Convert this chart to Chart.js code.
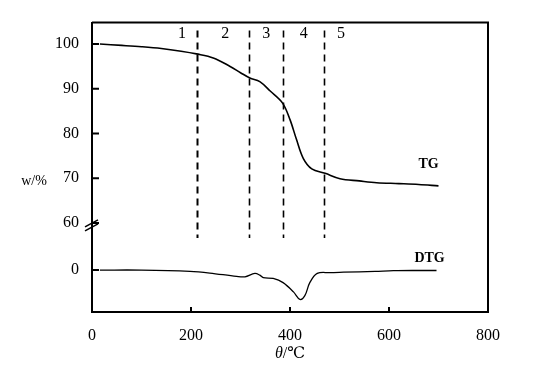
<!DOCTYPE html>
<html>
<head>
<meta charset="utf-8">
<script src="https://cdn.jsdelivr.net/npm/chart.js@4/dist/chart.umd.min.js"></script>
<style>
  html, body { margin: 0; padding: 0; background: #fff; }
</style>
</head>
<body>
<canvas id="tgChart" width="550" height="373"></canvas>
<script>
// TG curve (mass %) vs temperature
const tgTemp = [16, 60, 100, 140, 180, 211, 245, 279, 300, 319, 339, 360, 385, 400, 413, 427, 444, 471, 501, 540, 575, 620, 660, 700];
const tgMass = [100, 99.7, 99.4, 99.0, 98.4, 97.8, 96.9, 95.0, 93.6, 92.4, 91.6, 89.5, 86.8, 83.1, 78.7, 74.4, 72.1, 71.1, 69.9, 69.4, 69.0, 68.8, 68.6, 68.3];

// DTG curve (arbitrary units)
const dtgTemp = [16, 100, 198, 238, 292, 309, 329, 339, 346, 366, 386, 407, 420, 430, 440, 455, 480, 508, 572, 609, 650, 696];
const dtgRate = [0, 0, -0.3, -0.7, -1.5, -1.6, -0.8, -1.2, -1.8, -2.0, -3.0, -5.2, -7.0, -6.1, -3.0, -0.8, -0.6, -0.5, -0.3, -0.15, -0.1, -0.1];

// stage boundaries and labels
const stageBounds = [212, 318, 385, 469];
const stageLabels = ["1", "2", "3", "4", "5"];
const stageLabelTemp = [182, 269, 352, 428, 503];

const xTicks = [0, 200, 400, 600, 800];
const tgTicks = [60, 70, 80, 90, 100];
const dtgTicks = [0];

const FONT = "'Liberation Serif', 'DejaVu Serif', serif";

const decorations = {
    id: "decorations",
    afterDraw(chart) {
        const ctx = chart.ctx;
        const area = chart.chartArea;
        const xs = chart.scales.x;
        const ys = chart.scales.y;
        const y2 = chart.scales.y2;
        ctx.save();
        ctx.strokeStyle = "#000";
        ctx.fillStyle = "#000";

        // top and right frame
        ctx.lineWidth = 2;
        ctx.beginPath();
        ctx.moveTo(area.left, area.top);
        ctx.lineTo(area.right, area.top);
        ctx.lineTo(area.right, area.bottom);
        ctx.stroke();

        // inward tick marks
        ctx.lineWidth = 2;
        ctx.beginPath();
        xTicks.slice(1, -1).forEach(v => {
            const px = xs.getPixelForValue(v);
            ctx.moveTo(px, area.bottom);
            ctx.lineTo(px, area.bottom - 5);
        });
        tgTicks.forEach(v => {
            const py = ys.getPixelForValue(v);
            ctx.moveTo(area.left, py);
            ctx.lineTo(area.left + 7, py);
        });
        dtgTicks.forEach(v => {
            const py = y2.getPixelForValue(v);
            ctx.moveTo(area.left, py);
            ctx.lineTo(area.left + 7, py);
        });
        ctx.stroke();

        // axis break marks at the bottom of the TG scale
        const by = ys.getPixelForValue(60);
        ctx.lineWidth = 1.5;
        ctx.beginPath();
        ctx.moveTo(area.left - 7, by + 4);
        ctx.lineTo(area.left + 6, by - 3);
        ctx.moveTo(area.left - 7, by + 8);
        ctx.lineTo(area.left + 6, by + 1);
        ctx.stroke();

        // dashed stage boundaries
        ctx.setLineDash([7, 5]);
        stageBounds.forEach((t, i) => {
            ctx.lineWidth = i === 0 ? 2 : 1.6;
            const px = Math.round(xs.getPixelForValue(t)) + 0.5;
            ctx.beginPath();
            ctx.moveTo(px, area.top + 8);
            ctx.lineTo(px, 238);
            ctx.stroke();
        });
        ctx.setLineDash([]);

        // stage numbers
        ctx.font = "16px " + FONT;
        ctx.textAlign = "center";
        ctx.textBaseline = "middle";
        stageLabels.forEach((s, i) => {
            ctx.fillText(s, xs.getPixelForValue(stageLabelTemp[i]), 34);
        });

        // curve labels
        ctx.font = "bold 14px " + FONT;
        ctx.fillText("TG", xs.getPixelForValue(680), ys.getPixelForValue(73));
        ctx.fillText("DTG", xs.getPixelForValue(682), y2.getPixelForValue(2.8));

        // y-axis title
        ctx.font = "14px " + FONT;
        ctx.fillText("w/%", 34, 181);

        // x-axis title
        ctx.textAlign = "left";
        const cx = (area.left + area.right) / 2;
        ctx.font = "italic 16px " + FONT;
        const w1 = ctx.measureText("θ").width;
        ctx.font = "16px " + FONT;
        const w2 = ctx.measureText("/℃").width;
        const sx = cx - (w1 + w2) / 2;
        ctx.font = "italic 16px " + FONT;
        ctx.fillText("θ", sx, 354);
        ctx.font = "16px " + FONT;
        ctx.fillText("/℃", sx + w1, 354);
        ctx.restore();
    }
};

const ctx = document.getElementById("tgChart").getContext("2d");

new Chart(ctx, {
    type: "line",
    data: {
        datasets: [{
            label: "TG",
            data: tgTemp.map((t, i) => ({ x: t, y: tgMass[i] })),
            yAxisID: "y",
            borderColor: "#000",
            borderWidth: 1.6,
            pointRadius: 0,
            tension: 0.35,
            fill: false
        }, {
            label: "DTG",
            data: dtgTemp.map((t, i) => ({ x: t, y: dtgRate[i] })),
            yAxisID: "y2",
            borderColor: "#000",
            borderWidth: 1.3,
            pointRadius: 0,
            tension: 0.35,
            fill: false
        }]
    },
    options: {
        responsive: false,
        animation: false,
        maintainAspectRatio: false,
        layout: { padding: { top: 13, right: 62, left: 0, bottom: 0 } },
        plugins: {
            legend: { display: false },
            tooltip: { enabled: false }
        },
        scales: {
            x: {
                type: "linear",
                min: 0,
                max: 800,
                afterBuildTicks: s => { s.ticks = xTicks.map(v => ({ value: v })); },
                afterFit: s => { s.height = 61; },
                border: { color: "#000", width: 2 },
                grid: { drawOnChartArea: false, drawTicks: false },
                ticks: { color: "#000", padding: 14, autoSkip: false, maxRotation: 0, font: { family: FONT, size: 16 } }
            },
            y2: {
                type: "linear",
                position: "left",
                stack: "left",
                stackWeight: 92,
                min: -10,
                max: 11.25,
                afterBuildTicks: s => { s.ticks = dtgTicks.map(v => ({ value: v })); },
                afterFit: s => { s.width = 92; },
                border: { color: "#000", width: 2 },
                grid: { drawOnChartArea: false, drawTicks: false },
                ticks: { color: "#000", padding: 13, autoSkip: false, font: { family: FONT, size: 16 } }
            },
            y: {
                type: "linear",
                position: "left",
                stack: "left",
                stackWeight: 207,
                min: 60,
                max: 104.8,
                afterBuildTicks: s => { s.ticks = tgTicks.map(v => ({ value: v })); },
                afterFit: s => { s.width = 92; },
                border: { color: "#000", width: 2 },
                grid: { drawOnChartArea: false, drawTicks: false },
                ticks: { color: "#000", padding: 13, autoSkip: false, font: { family: FONT, size: 16 } }
            }
        }
    },
    plugins: [decorations]
});
</script>
</body>
</html>
